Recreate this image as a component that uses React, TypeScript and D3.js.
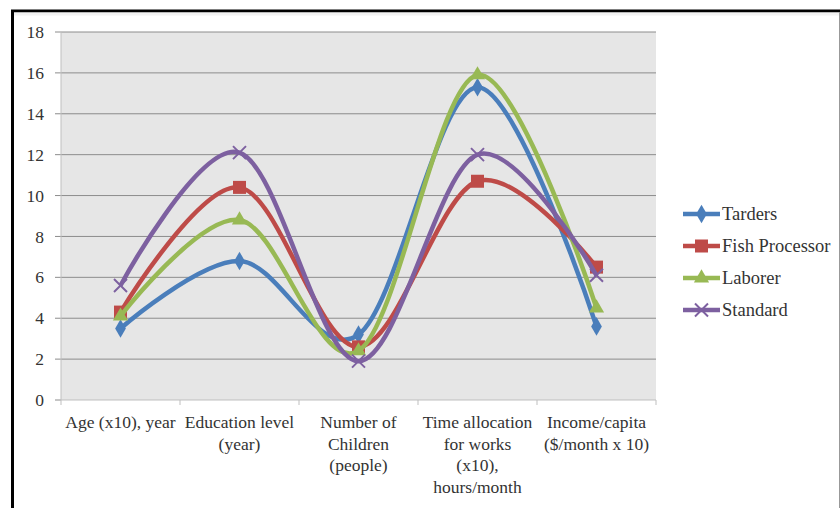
import React from "react";
import * as d3 from "d3";

const categories: string[][] = [
  ["Age (x10), year"],
  ["Education level", "(year)"],
  ["Number of", "Children", "(people)"],
  ["Time allocation", "for works", "(x10),", "hours/month"],
  ["Income/capita", "($/month x 10)"],
];
const seriesNames = ["Tarders", "Fish Processor", "Laborer", "Standard"];
const tarders = [3.5, 6.8, 3.2, 15.3, 3.6];
const fishProcessor = [4.3, 10.4, 2.6, 10.7, 6.5];
const laborer = [4.1, 8.8, 2.4, 15.9, 4.5];
const standard = [5.6, 12.1, 1.9, 12.0, 6.1];
const yTicks = [0, 2, 4, 6, 8, 10, 12, 14, 16, 18];

const seriesValues = [tarders, fishProcessor, laborer, standard];
const colors = ["#4A7EBB", "#BE4B48", "#98B954", "#7D60A0"];
const markerTypes = ["diamond", "square", "triangle", "x"];

const W = 840;
const H = 508;
const plot = { left: 61, right: 656, top: 32, bottom: 400 };
const font = "'Liberation Serif', 'DejaVu Serif', 'Noto Serif', 'Times New Roman', Times, serif";
const txt = { fontFamily: font, fontSize: 17.5, fill: "#333" } as const;

function Marker({ type, x, y, color }: { type: string; x: number; y: number; color: string }) {
  if (type === "diamond") {
    const p = d3.symbol(d3.symbolDiamond, 100)();
    return <path d={p as string} transform={`translate(${x},${y})`} fill={color} />;
  }
  if (type === "square") {
    return <rect x={x - 6.5} y={y - 6.5} width={13} height={13} fill={color} />;
  }
  if (type === "triangle") {
    const p = d3.symbol(d3.symbolTriangle, 100)();
    return <path d={p as string} transform={`translate(${x},${y})`} fill={color} />;
  }
  const s = 6.5;
  return (
    <g stroke={color} strokeWidth={2}>
      <line x1={x - s} y1={y - s} x2={x + s} y2={y + s} />
      <line x1={x - s} y1={y + s} x2={x + s} y2={y - s} />
    </g>
  );
}

export default function App() {
  const x = d3
    .scaleBand<number>()
    .domain(d3.range(categories.length))
    .range([plot.left, plot.right]);
  const y = d3.scaleLinear().domain([0, 18]).range([plot.bottom, plot.top]);
  const cx = (i: number) => (x(i) as number) + x.bandwidth() / 2;
  const line = d3
    .line<number>()
    .x((_, i) => cx(i))
    .y((v) => y(v))
    .curve(d3.curveCardinal.tension(0));

  const boundaries = d3.range(categories.length + 1).map((i) => plot.left + i * x.bandwidth());
  const legendY = [214, 246, 278, 310];

  return (
    <svg
      width={W}
      height={H}
      style={{ position: "absolute", left: 0, top: 0, background: "#fff", fontFamily: font }}
    >
      <rect x={0} y={0} width={W} height={H} fill="#fff" />
      {/* frame */}
      <line x1={11} y1={11} x2={W} y2={11} stroke="#000" strokeWidth={3} />
      <line x1={12.5} y1={10} x2={12.5} y2={H} stroke="#000" strokeWidth={3} />
      <line x1={839.5} y1={12} x2={839.5} y2={H} stroke="#999" strokeWidth={1} />
      <rect x={14} y={12.5} width={825} height={3} fill="#f2f2f2" />

      {/* plot area */}
      <rect
        x={plot.left}
        y={plot.top}
        width={plot.right - plot.left}
        height={plot.bottom - plot.top}
        fill="#E6E6E6"
      />
      {yTicks.map((t) => (
        <g key={t}>
          {t > 0 && (
            <line
              x1={plot.left}
              x2={plot.right}
              y1={y(t)}
              y2={y(t)}
              stroke="#8C8C8C"
              strokeWidth={1}
            />
          )}
          <line x1={plot.left - 6} x2={plot.left} y1={y(t)} y2={y(t)} stroke="#8C8C8C" />
          <text x={44} y={y(t)} dy="0.35em" textAnchor="end" style={txt}>
            {t}
          </text>
        </g>
      ))}
      <line x1={plot.left} x2={plot.left} y1={plot.top} y2={plot.bottom} stroke="#BFBFBF" />
      <line x1={plot.left} x2={plot.right} y1={plot.bottom} y2={plot.bottom} stroke="#BFBFBF" />
      {boundaries.map((bx, i) => (
        <line key={i} x1={bx} x2={bx} y1={plot.bottom} y2={plot.bottom + 5} stroke="#BFBFBF" />
      ))}
      {categories.map((lines, i) => (
        <text key={i} x={cx(i)} textAnchor="middle" style={txt}>
          {lines.map((l, j) => (
            <tspan key={j} x={cx(i)} y={428 + j * 21.5}>
              {l}
            </tspan>
          ))}
        </text>
      ))}

      {/* series */}
      {seriesValues.map((vals, s) => (
        <g key={s}>
          <path d={line(vals) as string} fill="none" stroke={colors[s]} strokeWidth={4.5} />
          {vals.map((v, i) => (
            <Marker key={i} type={markerTypes[s]} x={cx(i)} y={y(v)} color={colors[s]} />
          ))}
        </g>
      ))}

      {/* legend */}
      {seriesNames.map((n, s) => (
        <g key={n}>
          <line
            x1={683}
            x2={720}
            y1={legendY[s]}
            y2={legendY[s]}
            stroke={colors[s]}
            strokeWidth={4.5}
          />
          <Marker type={markerTypes[s]} x={701.5} y={legendY[s]} color={colors[s]} />
          <text x={722} y={legendY[s]} dy="0.35em" style={{ ...txt, fontSize: 18.5 }}>
            {n}
          </text>
        </g>
      ))}
    </svg>
  );
}
